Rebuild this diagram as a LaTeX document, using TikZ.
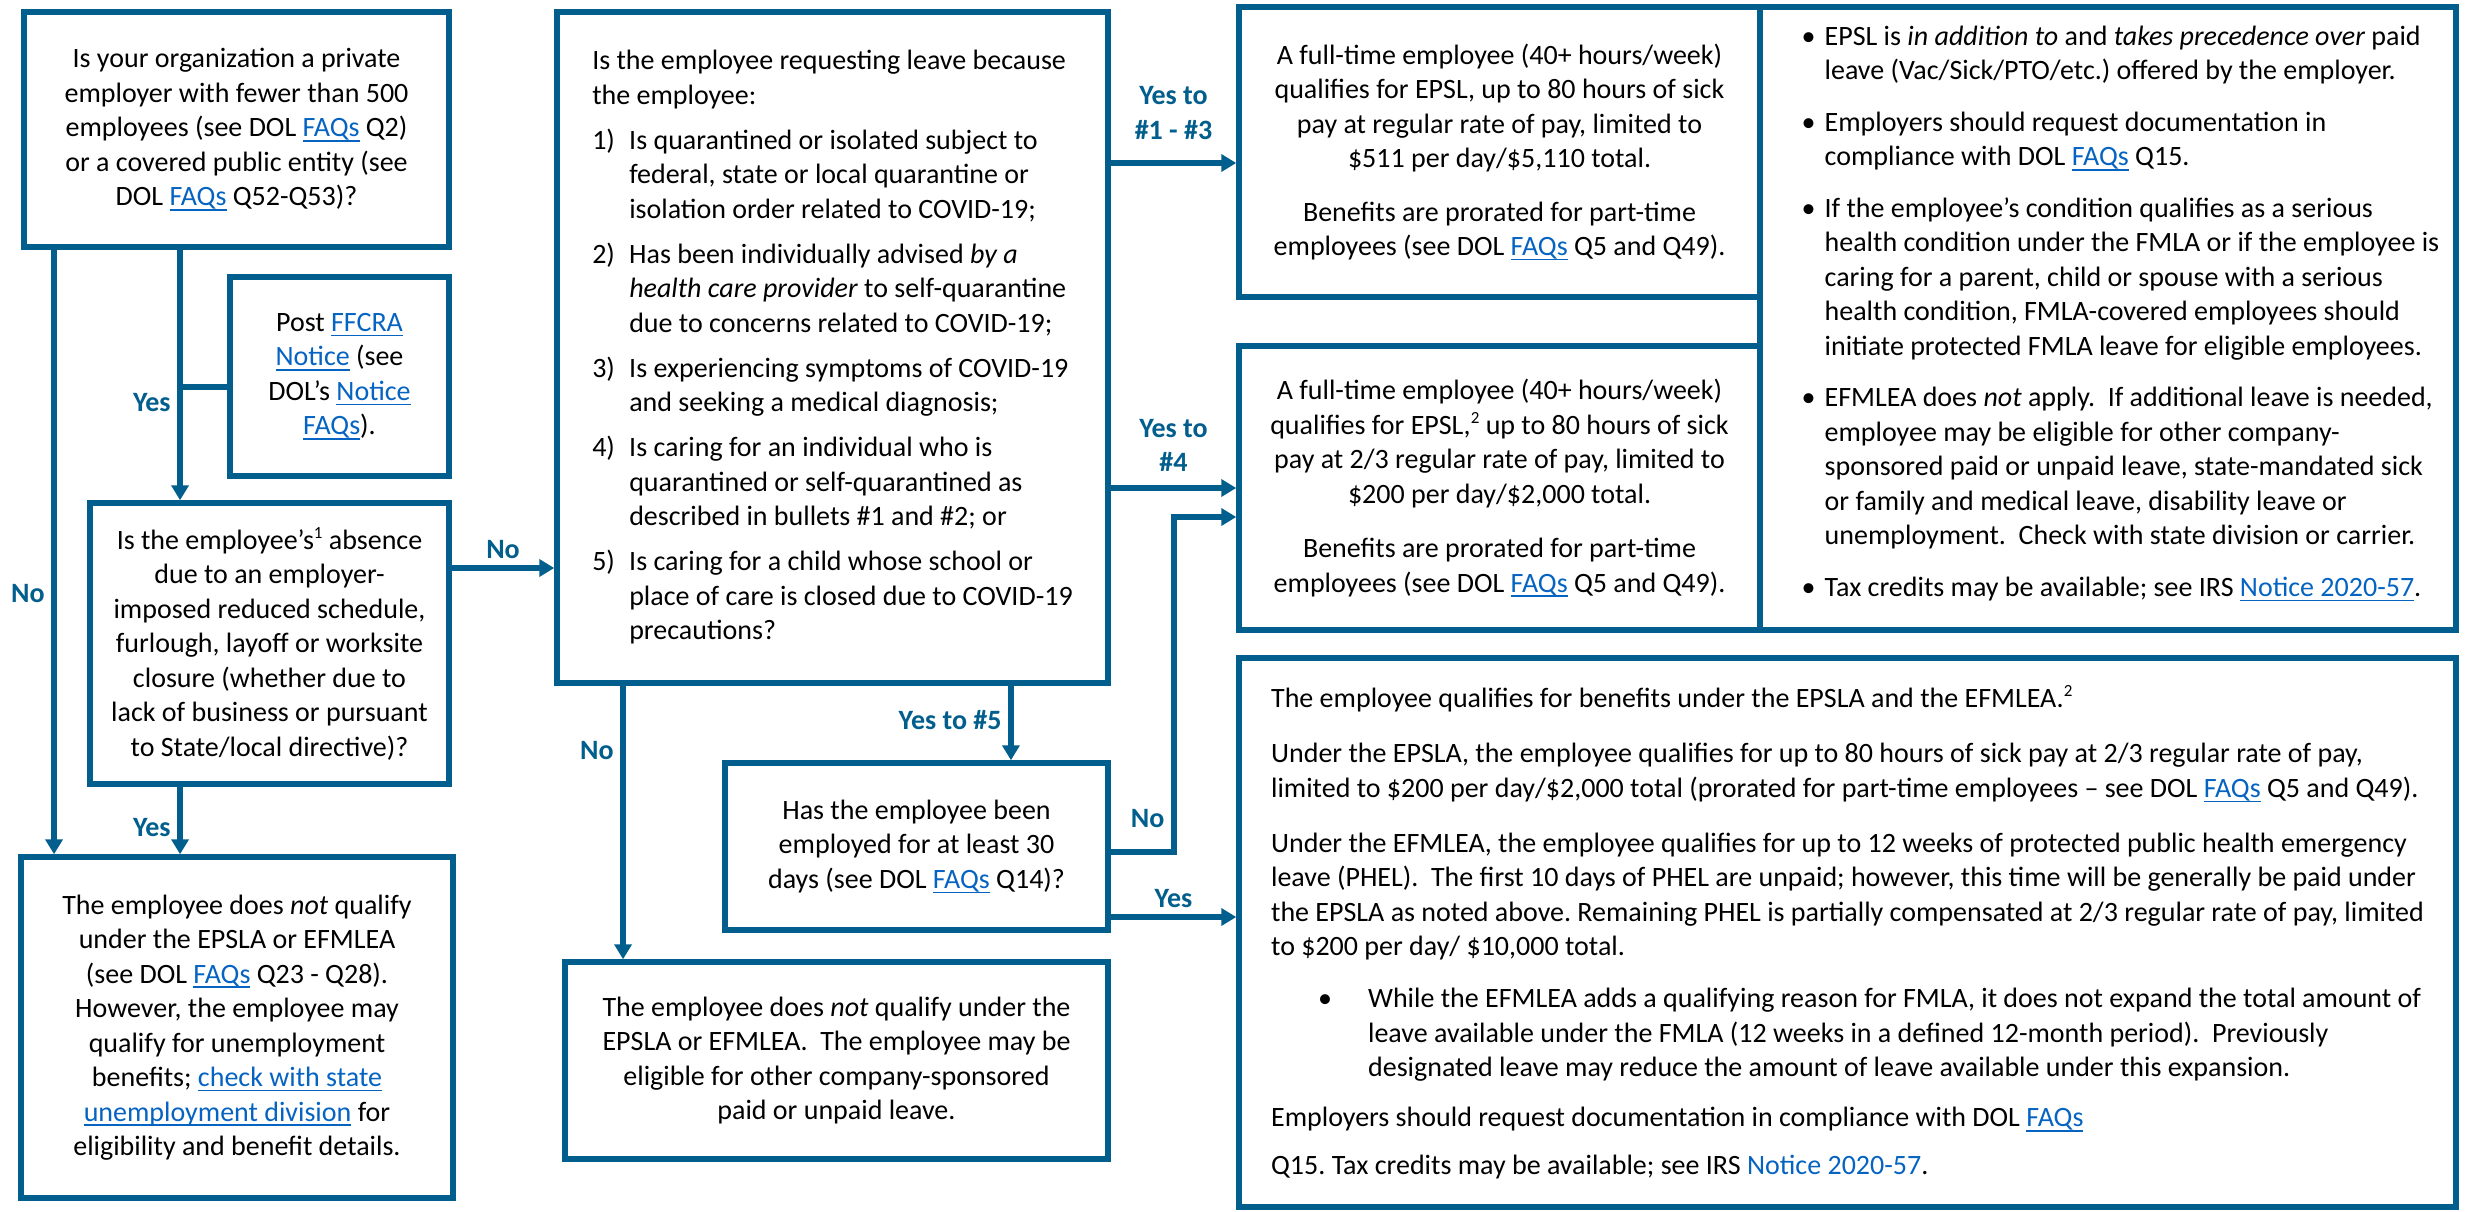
\documentclass[tikz,border=0pt]{standalone}
\usepackage{fontspec}
\setmainfont{Carlito}
\usetikzlibrary{positioning,arrows.meta}
\definecolor{flowblue}{RGB}{2,94,140}
\definecolor{linkblue}{RGB}{5,99,193}
\tikzset{>={Triangle[length=7.5pt,width=8.5pt]}}
\tikzset{
  txt/.style={font=\fontsize{14}{17.25}\selectfont},
  box/.style={txt,draw=flowblue,line width=2.75pt},
  wire/.style={flowblue,line width=2.75pt},
  lbl/.style={font=\fontsize{14}{17.25}\selectfont\bfseries}
}
\def\lnk#1{{\color{linkblue}\setbox0\hbox{#1}\rlap{\rule[-2.4pt]{\wd0}{0.75pt}}\box0}}
\def\sups#1{\raisebox{5.5pt}{\fontsize{8.5}{9}\selectfont #1}}
\def\itemno#1{\makebox[18.5pt][l]{#1}}
\def\dent{\hspace*{18.5pt}}
\def\blt{\makebox[11.5pt][l]{\textbullet}}
\def\bdent{\hspace*{11.5pt}}
\def\across#1#2#3{
  \path [wire,->] (#1) edge node [lbl,above,align=center] {#3} (#2);
}
\def\down#1#2#3#4{
  \path [wire,->] (#1) edge node [lbl,left,pos=#4] {#3} (#2);
}

\begin{document}
\frenchspacing
\begin{tikzpicture}[x=0.5pt,y=-0.5pt]
\useasboundingbox (0,0) rectangle (2467,1211);
% left column
\node[box,align=center,minimum width=212.5pt,minimum height=117.5pt] (org) at (236.5,129.5)
  {Is your organization a private\\employer with fewer than 500\\employees (see DOL \lnk{FAQs} Q2)\\or a covered public entity (see\\DOL \lnk{FAQs} Q52-Q53)?};
\node[box,align=center,minimum width=109.5pt,minimum height=99.5pt,below=12.25pt of org.south east,anchor=north east] (poster)
  {Post \lnk{FFCRA}\\\lnk{Notice} (see\\DOL’s \lnk{Notice}\\\lnk{FAQs}).};
\node[box,align=center,minimum width=179.5pt,minimum height=140.5pt,below=10.75pt of poster.south east,anchor=north east] (absence)
  {Is the employee’s\sups{1} absence\\due to an employer-\\imposed reduced schedule,\\furlough, layoff or worksite\\closure (whether due to\\lack of business or pursuant\\to State/local directive)?};
\node[box,align=center,minimum width=216pt,minimum height=170.5pt] (noqual) at (237,1027.5)
  {The employee does \emph{not} qualify\\under the EPSLA or EFMLEA\\(see DOL \lnk{FAQs} Q23 - Q28).\\However, the employee may\\qualify for unemployment\\benefits; \lnk{check with state}\\\lnk{unemployment division} for\\eligibility and benefit details.};
% middle column
\node[box,align=left,minimum width=275.5pt,minimum height=335.5pt] (reason) at (832.5,347.5)
  {Is the employee requesting leave because\\
   the employee:\\[5.25pt]
   \itemno{1)}Is quarantined or isolated subject to\\
   \dent federal, state or local quarantine or\\
   \dent isolation order related to COVID-19;\\[5.25pt]
   \itemno{2)}Has been individually advised \emph{by a}\\
   \dent\emph{health care provider} to self-quarantine\\
   \dent due to concerns related to COVID-19;\\[5.25pt]
   \itemno{3)}Is experiencing symptoms of COVID-19\\
   \dent and seeking a medical diagnosis;\\[5.25pt]
   \itemno{4)}Is caring for an individual who is\\
   \dent quarantined or self-quarantined as\\
   \dent described in bullets \#1 and \#2; or\\[5.25pt]
   \itemno{5)}Is caring for a child whose school or\\
   \dent place of care is closed due to COVID-19\\
   \dent precautions?};
\node[box,align=center,minimum width=191.5pt,minimum height=83.5pt,below=37.25pt of reason.south east,anchor=north east] (thirty)
  {Has the employee been\\employed for at least 30\\days (see DOL \lnk{FAQs} Q14)?};
\node[box,align=center,minimum width=271.5pt,minimum height=98.5pt,below=13.25pt of thirty.south east,anchor=north east] (other)
  {The employee does \emph{not} qualify under the\\EPSLA or EFMLEA.\ \ The employee may be\\eligible for other company-sponsored\\paid or unpaid leave.};
% right column
\node[box,align=center,minimum width=260.5pt,minimum height=145pt] (fullpay) at (1499.5,152)
  {A full-time employee (40+ hours/week)\\
   qualifies for EPSL, up to 80 hours of sick\\
   pay at regular rate of pay, limited to\\
   \$511 per day/\$5,110 total.\\[9.5pt]
   Benefits are prorated for part-time\\
   employees (see DOL \lnk{FAQs} Q5 and Q49).};
\node[box,align=center,minimum width=260.5pt,minimum height=142pt,below=21.75pt of fullpay.south west,anchor=north west] (partpay)
  {A full-time employee (40+ hours/week)\\
   qualifies for EPSL,\sups{2} up to 80 hours of sick\\
   pay at 2/3 regular rate of pay, limited to\\
   \$200 per day/\$2,000 total.\\[10pt]
   Benefits are prorated for part-time\\
   employees (see DOL \lnk{FAQs} Q5 and Q49).};
\node[box,minimum width=348pt,minimum height=311.5pt] (notes) at (2108,318.5) {};
\node[txt,align=left,inner sep=0pt,right=22pt of notes.west,yshift=2.5pt] (notelist)
  {\blt EPSL is \emph{in addition to} and \emph{takes precedence over} paid\\
   \bdent leave (Vac/Sick/PTO/etc.) offered by the employer.\\[8.5pt]
   \blt Employers should request documentation in\\
   \bdent compliance with DOL \lnk{FAQs} Q15.\\[8.5pt]
   \blt If the employee’s condition qualifies as a serious\\
   \bdent health condition under the FMLA or if the employee is\\
   \bdent caring for a parent, child or spouse with a serious\\
   \bdent health condition, FMLA-covered employees should\\
   \bdent initiate protected FMLA leave for eligible employees.\\[8.5pt]
   \blt EFMLEA does \emph{not} apply.\ \ If additional leave is needed,\\
   \bdent employee may be eligible for other company-\\
   \bdent sponsored paid or unpaid leave, state-mandated sick\\
   \bdent or family and medical leave, disability leave or\\
   \bdent unemployment.\ \ Check with state division or carrier.\\[8.5pt]
   \blt Tax credits may be available; see IRS \lnk{Notice 2020-57}.};
\node[box,align=left,minimum width=608.5pt,minimum height=274.5pt,below=11.25pt of partpay.south west,anchor=north west] (both)
  {The employee qualifies for benefits under the EPSLA and the EFMLEA.\sups{2}\\[10.25pt]
   Under the EPSLA, the employee qualifies for up to 80 hours of sick pay at 2/3 regular rate of pay,\\
   limited to \$200 per day/\$2,000 total (prorated for part-time employees -- see DOL \lnk{FAQs} Q5 and Q49).\\[10.25pt]
   Under the EFMLEA, the employee qualifies for up to 12 weeks of protected public health emergency\\
   leave (PHEL).\ \ The first 10 days of PHEL are unpaid; however, this time will be generally be paid under\\
   the EPSLA as noted above. Remaining PHEL is partially compensated at 2/3 regular rate of pay, limited\\
   to \$200 per day/ \$10,000 total.\\[8.75pt]
   \hspace*{23.5pt}\makebox[25pt][l]{\textbullet}While the EFMLEA adds a qualifying reason for FMLA, it does not expand the total amount of\\
   \hspace*{48.5pt}leave available under the FMLA (12 weeks in a defined 12-month period).\ \ Previously\\
   \hspace*{48.5pt}designated leave may reduce the amount of leave available under this expansion.\\[7.75pt]
   Employers should request documentation in compliance with DOL \lnk{FAQs}\\[6.75pt]
   Q15. Tax credits may be available; see IRS {\color{linkblue}Notice 2020-57}.};
% connectors
\coordinate (noA) at ([xshift=16.4pt]org.south west);
\coordinate (yesA) at ([xshift=79.4pt]org.south west);
\coordinate (postin) at ([yshift=-5.25pt]poster.west);
\coordinate (cd) at ([yshift=37.75pt]absence.east);
\coordinate (noD) at ([xshift=34.4pt]reason.south west);
\coordinate (yesD) at ([xshift=-49.9pt]reason.south east);
\coordinate (toH1) at ([yshift=-5.5pt]fullpay.west);
\coordinate (fno) at ([yshift=-2.75pt]thirty.east);
\coordinate (toH2) at ([yshift=-14.5pt]partpay.west);
\coordinate (fyes) at ([yshift=-35.25pt]thirty.east);
\down{noA}{noA |- noqual.north}{No}{0.568}
\down{yesA}{yesA |- absence.north}{Yes}{0.61}
\draw[wire] (yesA |- postin) -- (postin);
\down{yesA |- absence.south}{yesA |- noqual.north}{Yes}{0.6}
\across{cd}{reason.west |- cd}{No}
\down{noD}{noD |- other.north}{No}{0.235}
\down{yesD}{yesD |- thirty.north}{Yes to \#5}{0.46}
\path [wire,->] (reason.east |- toH1) edge node [lbl,above=7pt,align=center] {Yes to\\\#1 - \#3} (toH1);
\path [wire,->] (reason.east |- partpay.west) edge node [lbl,above=3.5pt,align=center] {Yes to\\\#4} (partpay.west);
\draw[wire,->] (fno) -- ++(31.5pt,0) |- node[lbl,left,pos=0.05] {No} (toH2);
\across{fyes}{both.west |- fyes}{Yes}
\end{tikzpicture}
\end{document}
